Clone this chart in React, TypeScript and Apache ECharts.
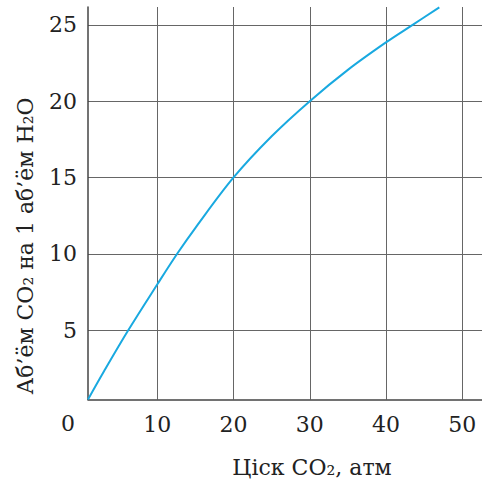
import React, { useEffect, useRef } from 'react';
import * as echarts from 'echarts';

const pressure = [0.9, 3, 6.2, 10, 12.6, 15, 20, 25, 30, 35, 40, 43.5, 47];
const volume = [0.45, 2.3, 5, 8.0, 10, 11.7, 15, 17.7, 20, 22.05, 23.85, 25.0, 26.15];
const xTicks = [10, 20, 30, 40, 50];
const yTicks = [5, 10, 15, 20, 25];
const xRange = [0.9, 52.6];
const yRange = [0.45, 26.17];
const xTitle = 'Ціск CO₂, атм';
const yTitle = 'Аб’ём CO₂ на 1 аб’ём H₂O';
const cornerLabel = '0';

const FONT = '"DejaVu Serif", serif';
const TEXT = '#222';
const GRID = '#666';
const AXIS = '#444';
const CURVE = '#19a9e0';

export default function App() {
  const ref = useRef<HTMLDivElement>(null);
  useEffect(() => {
    if (!ref.current) return;
    const chart = echarts.init(ref.current, undefined, { renderer: 'svg' });
    const data = pressure.map((p, i) => [p, volume[i]]);
    chart.setOption({
      animation: false,
      backgroundColor: '#fff',
      grid: { left: 88, top: 7, right: 0, bottom: 84.5, containLabel: false, outerBoundsMode: 'none' },
      xAxis: {
        type: 'value',
        min: xRange[0],
        max: xRange[1],
        axisLine: { show: true, onZero: false, lineStyle: { color: AXIS, width: 1.5 } },
        axisTick: { show: false, customValues: xTicks },
        axisLabel: {
          customValues: xTicks,
          margin: 14,
          fontFamily: FONT,
          fontSize: 22,
          color: TEXT,
        },
        splitLine: { show: true, lineStyle: { color: GRID, width: 1 } },
      },
      yAxis: {
        type: 'value',
        min: yRange[0],
        max: yRange[1],
        axisLine: { show: true, onZero: false, lineStyle: { color: AXIS, width: 1.5 } },
        axisTick: { show: false, customValues: yTicks },
        axisLabel: {
          customValues: yTicks,
          margin: 11,
          fontFamily: FONT,
          fontSize: 22,
          color: TEXT,
        },
        splitLine: { show: true, lineStyle: { color: GRID, width: 1 } },
      },
      graphic: [
        {
          type: 'text',
          x: 68,
          y: 423,
          style: { text: cornerLabel, font: `22px ${FONT}`, fill: TEXT, align: 'center', verticalAlign: 'middle' },
        },
        {
          type: 'text',
          x: 312,
          y: 467,
          style: { text: xTitle, font: `22px ${FONT}`, fill: TEXT, align: 'center', verticalAlign: 'middle' },
        },
        {
          type: 'text',
          x: 25,
          y: 246,
          rotation: Math.PI / 2,
          style: { text: yTitle, font: `22px ${FONT}`, fill: TEXT, align: 'center', verticalAlign: 'middle' },
        },
      ],
      series: [
        {
          type: 'line',
          data,
          smooth: 0.35,
          showSymbol: false,
          symbol: 'none',
          lineStyle: { color: CURVE, width: 2 },
          silent: true,
        },
      ],
    });
    return () => chart.dispose();
  }, []);
  return (
    <div
      ref={ref}
      style={{ position: 'fixed', left: 0, top: 0, width: 482, height: 484, background: '#fff' }}
    />
  );
}
